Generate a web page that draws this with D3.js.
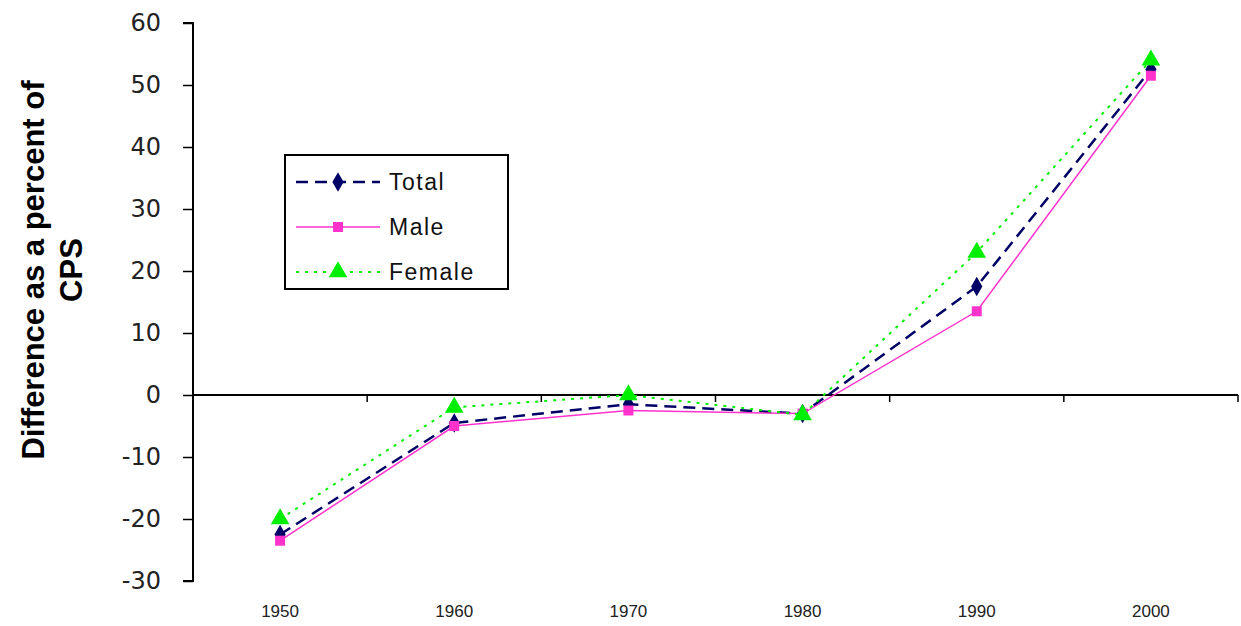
<!DOCTYPE html>
<html>
<head>
<meta charset="utf-8">
<script src="https://cdn.jsdelivr.net/npm/d3@7"></script>
<style>
  body { margin: 0; background: #fff; }
  text { font-family: "Liberation Sans", Arial, sans-serif; }
</style>
</head>
<body>
<svg id="chart" width="1241" height="626"></svg>
<script>
// Chart data
var years = ["1950", "1960", "1970", "1980", "1990", "2000"];
var totalValues = [-22.5, -4.5, -1.5, -3, 17.5, 52.5];
var maleValues = [-23.5, -5, -2.5, -3, 13.5, 51.5];
var femaleValues = [-20, -2, 0, -3.2, 23, 54];
var yTicks = [-30, -20, -10, 0, 10, 20, 30, 40, 50, 60];

var svg = d3.select("#chart");

var x = d3.scaleBand().domain(years).range([193, 1238]);
var y = d3.scaleLinear().domain([-30, 60]).range([581, 23]);

// y axis
var yAxis = svg.append("g")
  .attr("transform", "translate(193,0)")
  .call(d3.axisLeft(y).tickValues(yTicks).tickFormat(d => String(d)).tickSize(10).tickPadding(22));
yAxis.select(".domain").attr("stroke", "#000").attr("stroke-width", 2).attr("d", "M-10," + y(-30) + "H0V" + y(60) + "H-10");
yAxis.selectAll(".tick line").attr("stroke-width", 1.5);
yAxis.selectAll(".tick text")
  .style("font-size", "24px")
  .style("font-family", "'DejaVu Sans', sans-serif")
  .attr("fill", "#222");

// x axis at zero
var xAxis = svg.append("g")
  .attr("transform", "translate(0," + y(0) + ")");
xAxis.append("line")
  .attr("x1", 193).attr("x2", 1238)
  .attr("stroke", "#000").attr("stroke-width", 2);
xAxis.selectAll(".xt")
  .data(years)
  .enter().append("line")
  .attr("x1", d => x(d) + x.bandwidth())
  .attr("x2", d => x(d) + x.bandwidth())
  .attr("y1", 0).attr("y2", 7)
  .attr("stroke", "#000").attr("stroke-width", 1.5);

svg.selectAll(".xl")
  .data(years)
  .enter().append("text")
  .attr("x", d => x(d) + x.bandwidth() / 2)
  .attr("y", 617)
  .attr("text-anchor", "middle")
  .style("font-size", "17px")
  .attr("fill", "#222")
  .text(d => d);

// y title
var title = svg.append("text")
  .attr("transform", "translate(44,270) rotate(-90)")
  .attr("text-anchor", "middle")
  .style("font-size", "31px")
  .attr("font-weight", "bold");
title.append("tspan").attr("x", 0).attr("dy", 0).text("Difference as a percent of");
title.append("tspan").attr("x", 0).attr("dy", 38).text("CPS");

var cx = d => x(d) + x.bandwidth() / 2;
var series = [
  { name: "Total", values: totalValues, color: "#000066", dash: "12,7", width: 2.5, shape: d3.symbolDiamond, size: 110 },
  { name: "Male", values: maleValues, color: "#ff33cc", dash: null, width: 1.5, shape: d3.symbolSquare, size: 100 },
  { name: "Female", values: femaleValues, color: "#00ee00", dash: "3,6", width: 2, shape: d3.symbolTriangle, size: 150 }
];

var line = d3.line().x((d, i) => cx(years[i])).y(d => y(d));

series.forEach(s => {
  svg.append("path")
    .attr("d", line(s.values))
    .attr("fill", "none")
    .attr("stroke", s.color)
    .attr("stroke-width", s.width)
    .attr("stroke-dasharray", s.dash);
});
series.forEach(s => {
  svg.selectAll(null)
    .data(s.values)
    .enter().append("path")
    .attr("d", d3.symbol().type(s.shape).size(s.size))
    .attr("transform", (d, i) => "translate(" + cx(years[i]) + "," + y(d) + ")")
    .attr("fill", s.color);
});

// legend
var legend = svg.append("g");
legend.append("rect")
  .attr("x", 285).attr("y", 155).attr("width", 223).attr("height", 134)
  .attr("fill", "#fff").attr("stroke", "#000").attr("stroke-width", 2);
series.forEach((s, i) => {
  var ly = 182 + i * 45;
  legend.append("line")
    .attr("x1", 296).attr("x2", 380).attr("y1", ly).attr("y2", ly)
    .attr("stroke", s.color).attr("stroke-width", s.width)
    .attr("stroke-dasharray", s.dash);
  legend.append("path")
    .attr("d", d3.symbol().type(s.shape).size(s.size))
    .attr("transform", "translate(338," + ly + ")")
    .attr("fill", s.color);
  legend.append("text")
    .attr("x", 389).attr("y", ly + 8)
    .style("font-size", "23px")
    .attr("letter-spacing", 1.5)
    .attr("fill", "#111")
    .text(s.name);
});
</script>
</body>
</html>
